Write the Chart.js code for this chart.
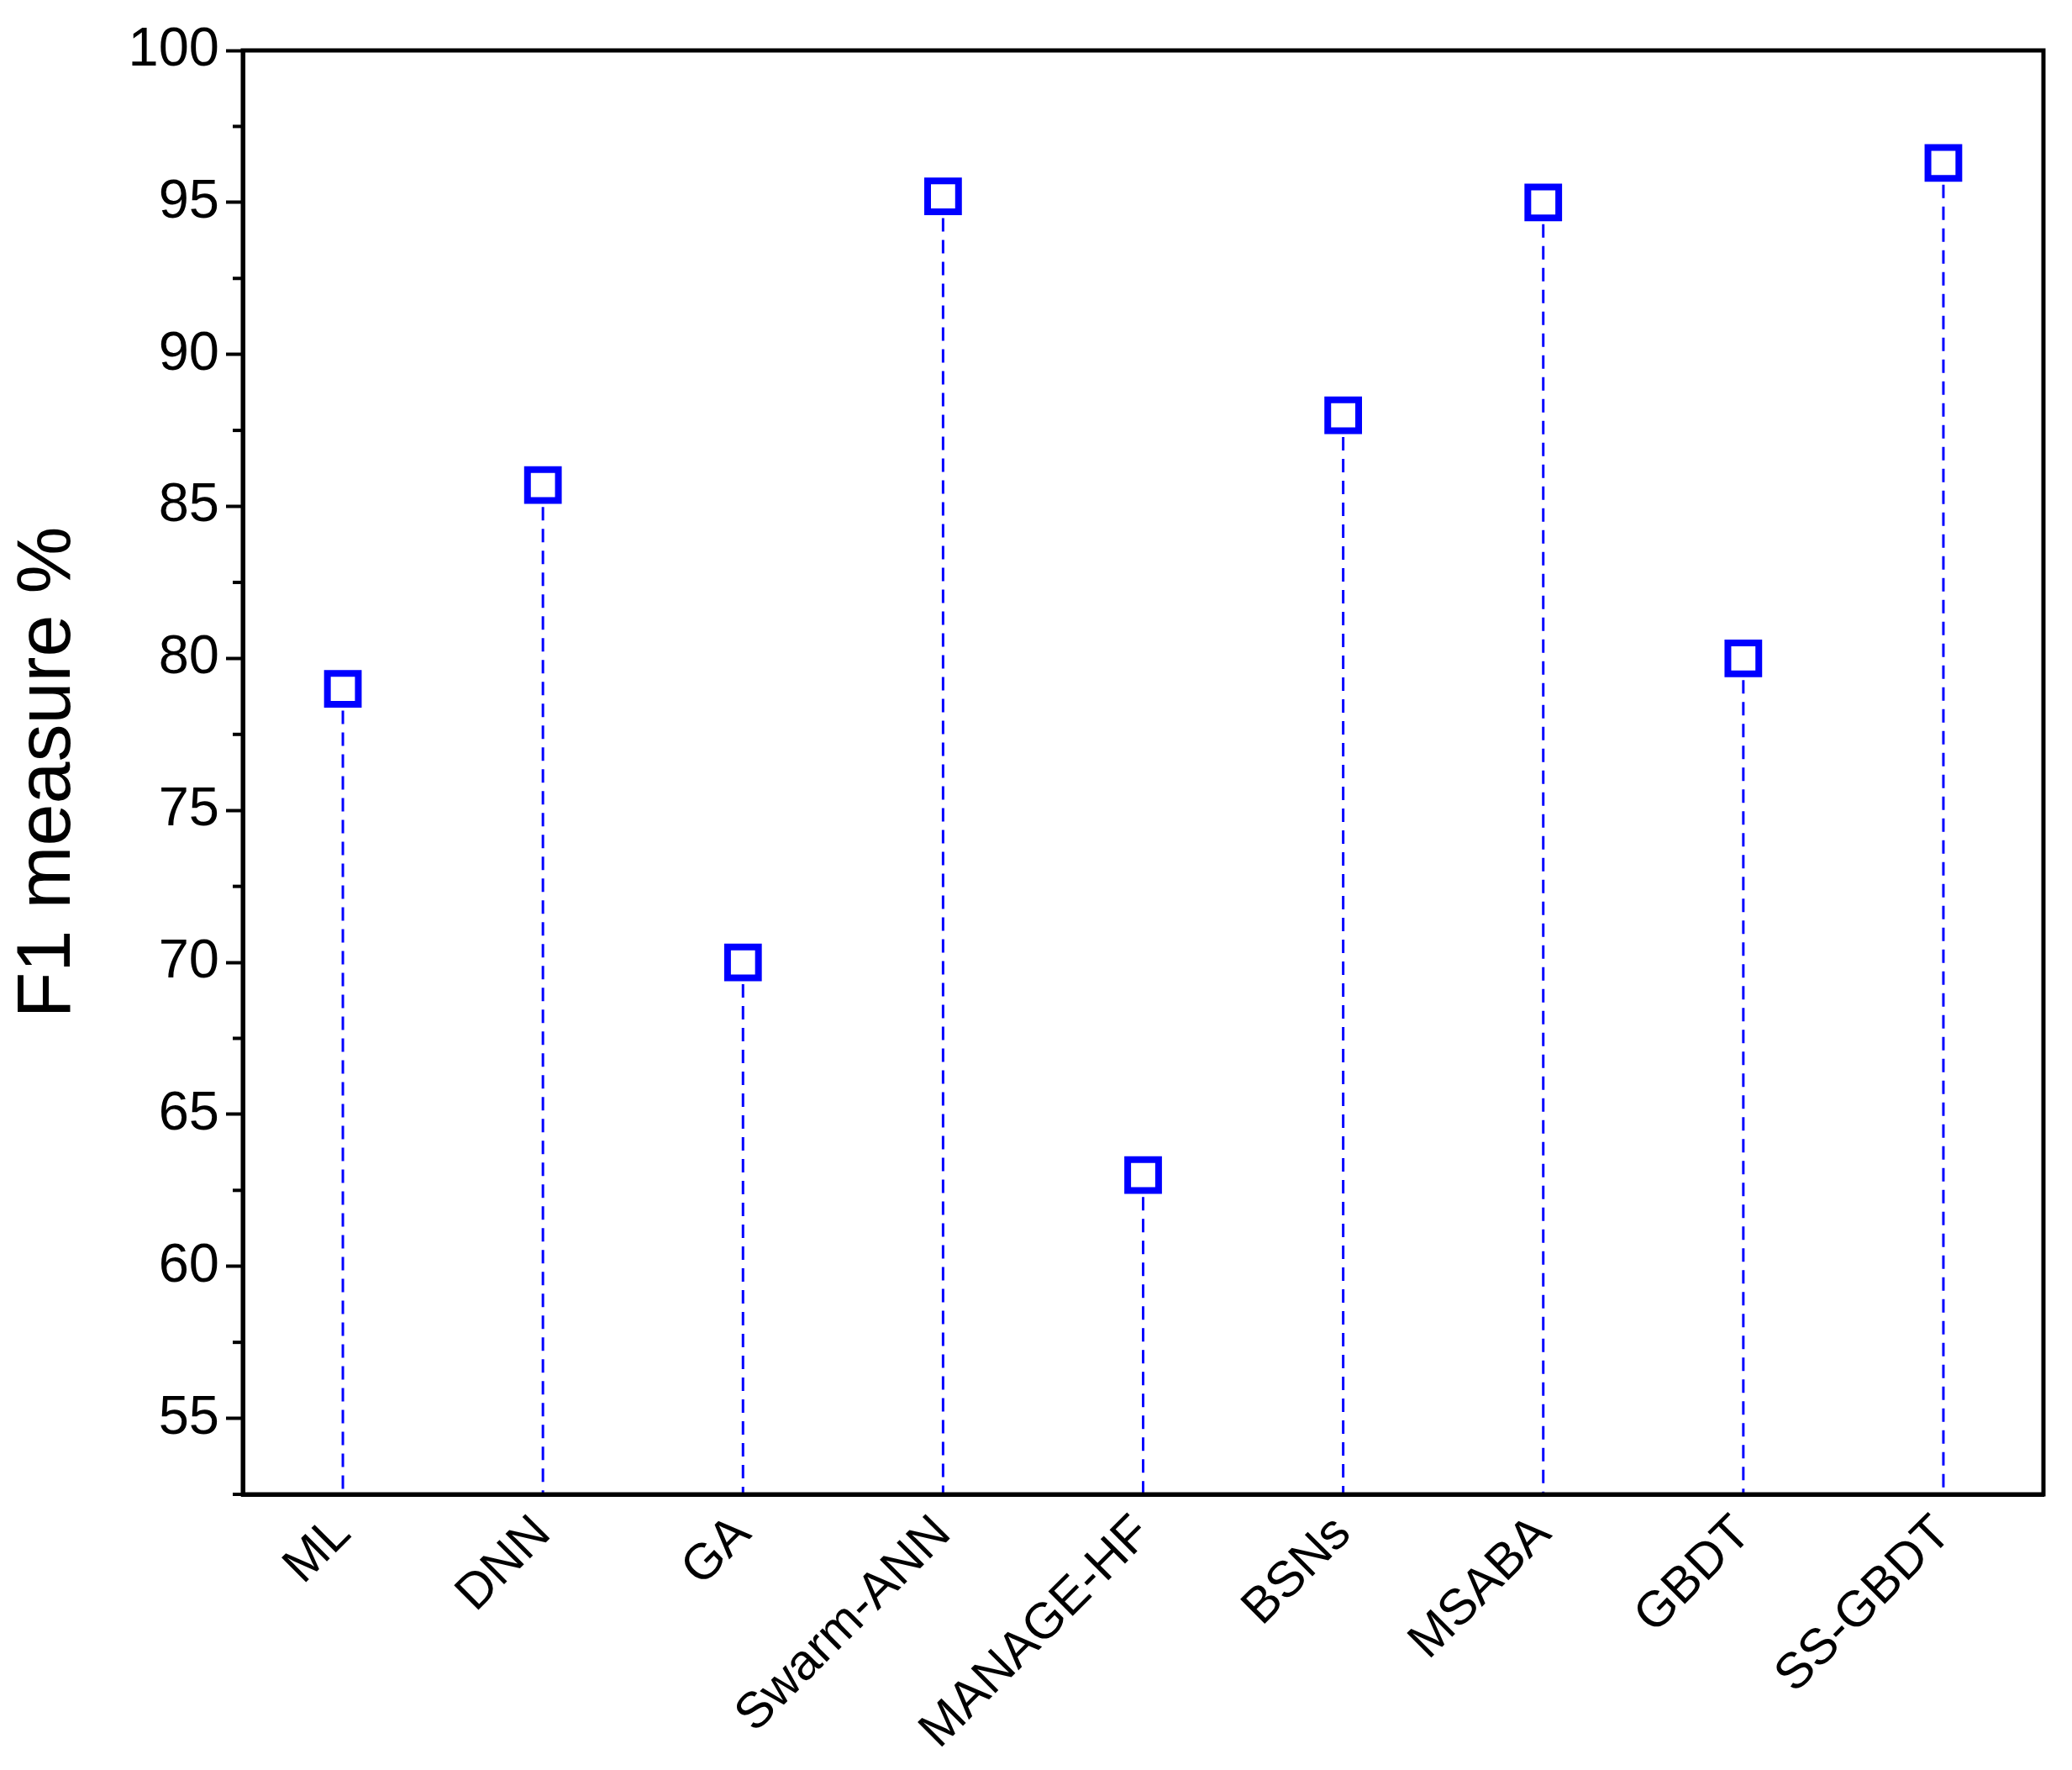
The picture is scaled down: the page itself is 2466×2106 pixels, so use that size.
<!DOCTYPE html>
<html><head><meta charset="utf-8">
<script src="https://cdn.jsdelivr.net/npm/chart.js@4"></script>
<style>html,body{margin:0;padding:0;background:#fff}#w{width:2466px;height:2106px}</style>
</head><body><div id="w"><canvas id="c"></canvas></div>
<script>
const categories = ["ML","DNN","GA","Swarm-ANN","MANAGE-HF","BSNs","MSABA","GBDT","SS-GBDT"];
const f1Values = [79, 85.7, 70, 95.2, 63, 88, 95, 80, 96.3];
const yMin = 52.5, yMax = 100;

const stems = {
  id:'stems',
  beforeDatasetsDraw(chart){
    const {ctx, scales:{x,y}, chartArea:a} = chart;
    ctx.save();
    ctx.strokeStyle='#0000ff'; ctx.lineWidth=3; ctx.setLineDash([16,10]);
    f1Values.forEach((v,i)=>{
      const px=x.getPixelForValue(i);
      ctx.beginPath(); ctx.moveTo(px,y.getPixelForValue(v)); ctx.lineTo(px,a.bottom); ctx.stroke();
    });
    ctx.restore();
  },
  afterDraw(chart){
    const {ctx, scales:{y}, chartArea:a} = chart;
    ctx.save();
    ctx.strokeStyle='#000'; ctx.lineWidth=5;
    ctx.strokeRect(a.left,a.top,a.right-a.left,a.bottom-a.top);
    ctx.lineWidth=4;
    for(let v=55; v<=yMax; v+=5){
      const py=y.getPixelForValue(v-2.5);
      ctx.beginPath(); ctx.moveTo(a.left,py); ctx.lineTo(a.left-12,py); ctx.stroke();
    }
    ctx.restore();
  }
};

new Chart(document.getElementById('c'),{
  type:'line',
  data:{labels:categories,datasets:[{data:f1Values,showLine:false,pointStyle:'rect',
    pointRadius:26,pointHoverRadius:26,pointBorderWidth:8,pointBorderColor:'#0000ff',
    pointBackgroundColor:'#ffffff'}]},
  options:{
    responsive:true,maintainAspectRatio:false,animation:false,
    layout:{padding:{top:60,right:19,left:0,bottom:0}},
    plugins:{legend:{display:false},tooltip:{enabled:false}},
    scales:{
      x:{type:'category',offset:true,
        grid:{display:false,drawTicks:false},border:{color:'#000',width:5},
        afterFit(s){s.height=328;},
        ticks:{color:'#000',maxRotation:45,minRotation:45,padding:12,
          font:{family:'Liberation Sans, Arial',size:60}}},
      y:{min:yMin,max:yMax,
        afterFit(s){s.width=289;},
        grid:{drawOnChartArea:false,drawTicks:true,tickLength:20,tickWidth:4,
          tickColor:(c)=> (c.tick && c.tick.value%5===0)?'#000':'rgba(0,0,0,0)'},
        border:{color:'#000',width:5},
        ticks:{stepSize:2.5,color:'#000',padding:8,autoSkip:false,
          font:{family:'Liberation Sans, Arial',size:65},
          callback:(v)=> v%5===0? String(v):''},
        title:{display:true,text:'F1 measure %',color:'#000',padding:{bottom:6},
          font:{family:'Liberation Sans, Arial',size:90}}}
    }
  },
  plugins:[stems]
});
</script></body></html>
